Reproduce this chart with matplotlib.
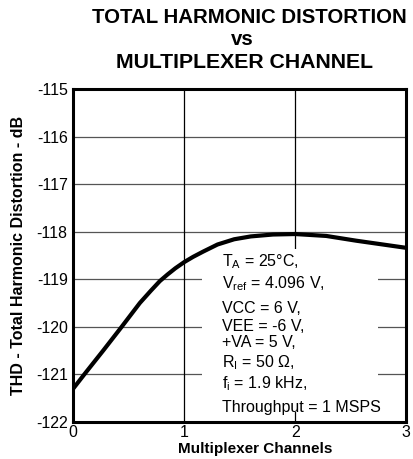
import matplotlib
matplotlib.use('Agg')
import matplotlib.pyplot as plt
from matplotlib.patches import Rectangle

plt.rcParams['font.family'] = ['Liberation Sans', 'DejaVu Sans']
plt.rcParams['mathtext.fontset'] = 'custom'
plt.rcParams['mathtext.rm'] = 'Liberation Sans'
plt.rcParams['mathtext.it'] = 'Liberation Sans'
plt.rcParams['axes.unicode_minus'] = False

# Datos
canales = [0, 0.1, 0.27, 0.43, 0.6, 0.7, 0.78, 0.85, 0.92, 1.0, 1.08, 1.17,
           1.3, 1.45, 1.6, 1.8, 2.0, 2.28, 2.55, 2.79, 3.0]
thd_db = [-121.3, -121.0, -120.5, -120.02, -119.5, -119.24, -119.04, -118.9,
          -118.77, -118.64, -118.53, -118.42, -118.27, -118.16, -118.1,
          -118.06, -118.05, -118.09, -118.19, -118.27, -118.34]

x_ticks = [0, 1, 2, 3]
y_ticks = [-122, -121, -120, -119, -118, -117, -116, -115]

condiciones = [
    r'T$_\mathregular{A}$ = 25°C,',
    r'V$_\mathregular{ref}$ = 4.096 V,',
    'VCC = 6 V,',
    'VEE = -6 V,',
    '+VA = 5 V,',
    r'R$_\mathregular{I}$ = 50 Ω,',
    r'f$_\mathregular{i}$ = 1.9 kHz,',
    'Throughput = 1 MSPS',
]

fig = plt.figure(figsize=(4.14, 4.59), dpi=100)
ax = fig.add_axes([0.177, 0.081, 0.804, 0.725])

ax.set_xlim(0, 3)
ax.set_ylim(-122, -115)
ax.set_xticks(x_ticks)
ax.set_yticks(y_ticks)
ax.tick_params(length=0, labelsize=11.5, pad=4)
ax.tick_params(axis='x', pad=2)

# Rejilla
for yv in y_ticks[1:-1]:
    ax.axhline(yv, color='#555555', linewidth=0.9, zorder=1)
for xv in x_ticks[1:-1]:
    ax.axvline(xv, color='black', linewidth=0.9, zorder=1)

for s in ax.spines.values():
    s.set_linewidth(2.2)

# Caja blanca detras del texto
ax.add_patch(Rectangle((0.386, 0.03), 0.53, 0.49, transform=ax.transAxes,
                       facecolor='white', edgecolor='none', zorder=2))

ax.plot(canales, thd_db, color='black', linewidth=3, zorder=3,
        solid_joinstyle='round', solid_capstyle='butt')

# Condiciones de prueba
y_lines = [0.48, 0.415, 0.34, 0.286, 0.238, 0.178, 0.115, 0.044]
for txt, yy in zip(condiciones, y_lines):
    ax.text(0.447, yy, txt, transform=ax.transAxes, fontsize=11.5,
            ha='left', va='center', zorder=4)

ax.set_xlabel('Multiplexer Channels', fontsize=11, fontweight='bold')
ax.xaxis.set_label_coords(0.546, -0.062)
ax.set_ylabel('THD - Total Harmonic Distortion - dB', fontsize=11.5,
              fontweight='bold', labelpad=7)

fig.text(0.602, 0.962, 'TOTAL HARMONIC DISTORTION', ha='center', va='center',
         fontsize=14.7, fontweight='bold')
fig.text(0.585, 0.913, 'vs', ha='center', va='center',
         fontsize=14.7, fontweight='bold')
fig.text(0.59, 0.863, 'MULTIPLEXER CHANNEL', ha='center', va='center',
         fontsize=15.3, fontweight='bold')

fig.savefig('out.png', dpi=100)
